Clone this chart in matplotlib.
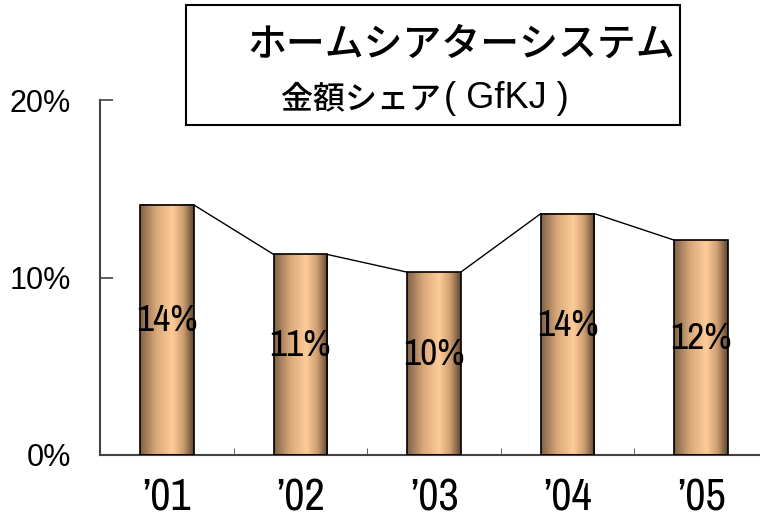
import matplotlib.pyplot as plt
import numpy as np
from matplotlib.colors import LinearSegmentedColormap
from matplotlib.patches import Rectangle

years = ["’01", "’02", "’03", "’04", "’05"]
share = [14.1, 11.3, 10.3, 13.6, 12.1]
share_labels = ["14%", "11%", "10%", "14%", "12%"]
yticks = [0, 10, 20]
ytick_labels = ["0%", "10%", "20%"]

W, H = 760, 518
NARROW = ["Archivo Narrow", "Liberation Sans", "DejaVu Sans"]

fig = plt.figure(figsize=(W / 100, H / 100), dpi=100)
ax = fig.add_axes([100 / W, (H - 455) / H, 668 / W, 355 / H])

cyl = LinearSegmentedColormap.from_list(
    "cyl", [(0, "#7f6147"), (0.3, "#d9a87a"), (0.6, "#ffcc99"), (0.8, "#cf9f72"), (1, "#5f4632")]
)
grad = np.linspace(0, 1, 256).reshape(1, -1)

x = np.arange(len(years))
bw = 0.4
for xi, v in zip(x, share):
    ax.imshow(grad, cmap=cyl, aspect="auto", extent=[xi - bw / 2, xi + bw / 2, 0, v], zorder=2)
    ax.add_patch(Rectangle((xi - bw / 2, 0), bw, v, fill=False, ec="black", lw=1.2, zorder=3))

# series lines between bar tops
for i in range(len(x) - 1):
    ax.plot([x[i] + bw / 2, x[i + 1] - bw / 2], [share[i], share[i + 1]], color="black", lw=1, zorder=3)

for xi, v, lab in zip(x, share, share_labels):
    ax.text(xi, v * 0.5 + 0.5, lab, ha="center", va="center", fontsize=27,
            family=NARROW, weight="medium", color="black", zorder=4)

ax.set_xlim(-0.5, len(years) - 0.5)
ax.set_ylim(0, 20)
ax.set_yticks(yticks)
ax.set_yticklabels(ytick_labels, family=["Liberation Sans", "DejaVu Sans"], fontsize=22)
ax.set_xticks(x)
ax.set_xticklabels(years, family=NARROW, fontsize=32)
ax.set_xticks(x[:-1] + 0.5, minor=True)
ax.tick_params(axis="y", direction="in", length=9, width=1.2, color="#444444", pad=21)
ax.tick_params(axis="x", which="major", length=0, pad=17)
ax.tick_params(axis="x", which="minor", direction="in", length=5, color="#444444")
for s in ["top", "right"]:
    ax.spines[s].set_visible(False)
for s in ["left", "bottom"]:
    ax.spines[s].set_color("#444444")
    ax.spines[s].set_linewidth(1.5)

# title box
fig.patches.append(Rectangle((186 / W, (H - 125) / H), 494 / W, 120 / H, transform=fig.transFigure,
                             fc="white", ec="black", lw=1.5, zorder=5))
fig.text(461 / W, 1 - 45 / H, "ホームシアターシステム", ha="center", va="center", fontsize=28,
         family=["Noto Sans CJK JP"], weight="medium", zorder=6)
fig.text(441 / W, 1 - 99 / H, "金額シェア", ha="right", va="center", fontsize=23,
         family=["Noto Sans CJK JP"], weight="medium", zorder=6)
fig.text(444 / W, 1 - 99 / H, "( GfKJ )", ha="left", va="center", fontsize=26,
         family=["Liberation Sans"], zorder=6)

fig.savefig("out.png", dpi=100)
